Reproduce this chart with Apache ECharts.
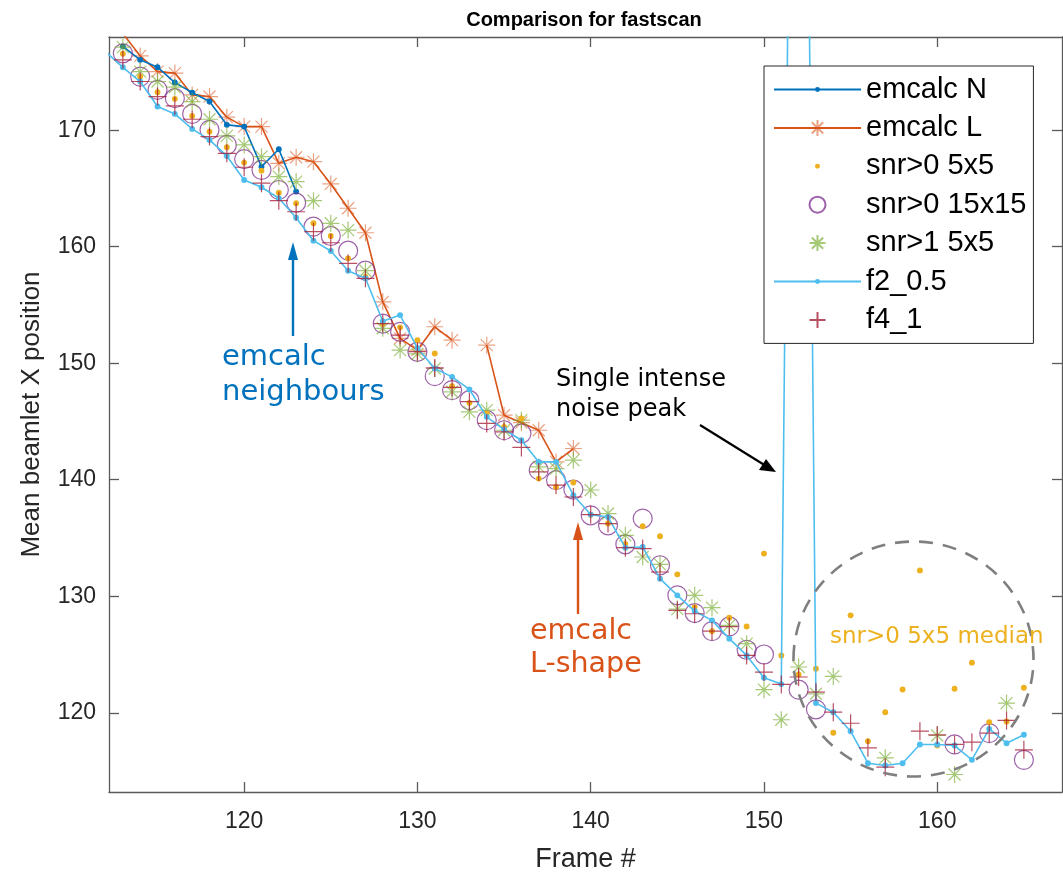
<!DOCTYPE html>
<html><head><meta charset="utf-8">
<script src="https://cdn.jsdelivr.net/npm/echarts@6/dist/echarts.min.js"></script>
<style>html,body{margin:0;padding:0;background:#fff}#c{width:1063px;height:879px}</style>
</head><body><div id="c"></div>
<script>
const frames = [112,113,114,115,116,117,118,119,120,121,122,123,124,125,126,127,128,129,130,131,132,133,134,135,136,137,138,139,140,141,142,143,144,145,146,147,148,149,150,151,152,153,154,155,156,157,158,159,160,161,162,163,164,165];
const emcalcN = [null,177.2,176.04,175.41,174.09,173.23,172.46,170.46,170.31,166.87,168.37,164.73,null,null,null,null,null,null,null,null,null,null,null,null,null,null,null,null,null,null,null,null,null,null,null,null,null,null,null,null,null,null,null,null,null,null,null,null,null,null,null,null,null,null];
const emcalcL = [null,178.3,176.38,175.03,174.90,173.03,172.89,171.12,170.31,170.31,167.16,167.68,167.30,165.39,163.30,161.20,155.27,152.13,151.13,153.13,151.98,null,151.55,145.54,144.9,144.25,141.53,142.68,null,null,null,null,null,null,null,null,null,null,null,null,null,null,null,null,null,null,null,null,null,null,null,null,null,null];
const snr0_5 = [null,176.56,174.6,173.26,172.69,171.23,169.88,168.54,167.22,166.53,164.64,163.73,162.01,160.92,159.0,157.42,153.4,153.08,151.98,150.84,148.03,146.60,145.69,144.54,145.26,140.10,139.38,139.76,137.0,136.24,134.5,136.01,135.15,131.88,129.07,127.0,128.16,127.41,133.66,124.92,123.29,123.78,118.28,128.36,117.56,120.05,122.0,132.22,117.19,122.06,124.30,119.19,119.25,122.15];
const snr0_15 = [null,176.6,174.6,173.46,172.75,171.40,170.03,168.74,167.51,166.59,164.87,163.78,161.72,160.92,159.66,157.94,153.4,152.7,150.98,148.89,147.69,146.83,145.11,144.25,143.97,140.82,139.96,139.16,136.95,136.09,134.46,136.67,132.66,130.08,128.56,127.01,127.41,125.41,125.0,null,121.98,120.3,null,null,null,null,null,null,null,117.28,null,118.25,null,115.96];
const snr1_5 = [null,177.13,175.03,174.18,173.69,172.46,170.94,169.51,168.74,167.73,166.01,165.58,163.95,162.01,161.43,157.94,153.0,151.13,150.8,149.55,147.55,145.83,145.97,144.25,145.11,141.10,140.96,141.68,139.12,137.1,135.23,133.37,132.74,128.9,130.08,129.02,127.5,125.93,121.98,119.4,123.93,121.63,123.12,null,null,116.13,null,null,118.05,114.7,null,null,120.83,null];
const f2_05 = [176.74,175.4,174.18,172.03,171.40,170.11,169.17,167.79,165.73,165.10,164.16,162.49,160.52,159.63,157.94,157.29,153.6,154.13,151.3,149.55,148.83,147.75,145.40,144.31,143.39,141.53,141.53,138.67,137.01,136.80,134.17,134.23,131.51,130.08,128.73,127.93,126.36,124.92,123.01,122.46,275,120.83,120.05,118.42,115.67,115.47,115.67,117.28,117.28,117.19,115.96,118.62,117.39,118.11];
const f4_1 = [null,176.04,174.18,172.89,172.09,170.94,169.45,168.02,166.82,165.45,163.95,163.0,161.29,160.34,158.57,157.29,153.4,152.41,151.0,149.6,147.92,146.7,144.83,144.11,142.77,140.67,139.53,138.52,137.0,136.24,134.17,134.09,132.08,128.79,128.5,127.01,127.4,124.92,123.49,122.43,123.07,121.77,120.05,119.10,116.99,115.33,null,118.42,118.1,117.28,117.48,118.25,119.34,116.82];
const seriesNames = ['emcalc N','emcalc L','snr>0 5x5','snr>0 15x15','snr>1 5x5','f2_0.5','f4_1'];
const xTicks = [120,130,140,150,160];
const yTicks = [120,130,140,150,160,170];

const STAR = 'path://M0,-10L0,10M-10,0L10,0M-7.07,-7.07L7.07,7.07M-7.07,7.07L7.07,-7.07';
const PLUS = 'path://M0,-10L0,10M-10,0L10,0';
const DOT = 'path://M-10,-10M10,10M-3.1,0A3.1,3.1,0,1,1,3.1,0A3.1,3.1,0,1,1,-3.1,0Z';
const CIRC = 'path://M-10,0A10,10,0,1,1,10,0A10,10,0,1,1,-10,0Z';

function pairs(vals){ return frames.map((f,i)=>[f, vals[i]]); }

function mk(name, vals, o){
  return {
    name: name, type: 'line', data: pairs(vals), clip: true,
    symbol: o.symbol, symbolSize: o.size, showSymbol: true,
    connectNulls: false, animation: false, silent: true, z: o.z || 2,
    lineStyle: o.line ? {color: o.lineColor, width: 1.6} : {color: o.lineColor, width: 0, opacity: 0},
    itemStyle: o.fill ? {color: o.fillColor, borderWidth: 0, opacity: o.op || 1}
                      : {color: 'none', borderColor: o.stroke, borderWidth: o.bw || 1.2, opacity: o.op || 1},
    emphasis: {disabled: true}
  };
}

const AX = '#5a5a5a';
const TXT = '#262626';
const FONT = '"Liberation Sans", Arial, Helvetica, sans-serif';
const ANN = '"DejaVu Sans", Verdana, sans-serif';

const chart = echarts.init(document.getElementById('c'), null, {renderer: 'canvas'});
const xMin = 112.2, xMax = 167.2, yMin = 113.2, yMax = 178.0;
const axX = (pos, show) => ({
  type: 'value', position: pos, min: xMin, max: xMax,
  axisLine: {show: true, onZero: false, lineStyle: {color: AX, width: 1.3}},
  axisTick: {show: true, inside: true, length: 10, customValues: xTicks, lineStyle: {color: AX, width: 1.3}},
  axisLabel: {show: show, customValues: xTicks, margin: 18, color: TXT, fontSize: 23, fontFamily: FONT},
  splitLine: {show: false},
  name: show ? 'Frame #' : '', nameLocation: 'middle', nameGap: 54,
  nameTextStyle: {color: TXT, fontSize: 27, fontFamily: FONT}
});
const axY = (pos, show) => ({
  type: 'value', position: pos, min: yMin, max: yMax,
  axisLine: {show: true, onZero: false, lineStyle: {color: AX, width: 1.3}},
  axisTick: {show: true, inside: true, length: 10, customValues: yTicks, lineStyle: {color: AX, width: 1.3}},
  axisLabel: {show: show, customValues: yTicks, margin: 13, color: TXT, fontSize: 23, fontFamily: FONT},
  splitLine: {show: false},
  name: show ? 'Mean beamlet X position' : '', nameLocation: 'middle', nameGap: 64, nameRotate: 90,
  nameTextStyle: {color: TXT, fontSize: 26, fontFamily: FONT}
});

chart.setOption({
  animation: false,
  backgroundColor: '#fff',
  title: {text: 'Comparison for fastscan', left: 579, top: 5, textAlign: 'center',
          textStyle: {fontFamily: FONT, fontWeight: 'bold', fontSize: 20, color: '#000'}},
  grid: {left: 109, right: 1, top: 37, bottom: 87, containLabel: false},
  xAxis: [axX('bottom', true), axX('top', false)],
  yAxis: [axY('left', true), axY('right', false)],
  legend: {
    orient: 'vertical', left: 764, top: 66,
    padding: [9, 7, 9, 9], itemWidth: 87, itemHeight: 20, itemGap: 9.4,
    borderColor: '#262626', borderWidth: 1, backgroundColor: '#fff',
    selectedMode: false, z: 10,
    textStyle: {fontSize: 29, fontFamily: FONT, color: '#000'},
    data: seriesNames
  },
  series: [
    mk(seriesNames[0], emcalcN, {symbol: DOT, size: 19, line: true, lineColor: '#0072BD', fill: true, fillColor: '#0072BD', z: 3}),
    mk(seriesNames[1], emcalcL, {symbol: STAR, size: 17, line: true, lineColor: '#D95319', stroke: 'rgba(217,83,25,0.55)', z: 2}),
    mk(seriesNames[2], snr0_5, {symbol: DOT, size: 19, line: false, fill: true, fillColor: '#EDB120', z: 4}),
    mk(seriesNames[3], snr0_15, {symbol: CIRC, size: 19, line: false, stroke: 'rgba(126,47,142,0.75)', z: 3}),
    mk(seriesNames[4], snr1_5, {symbol: STAR, size: 17, line: false, stroke: 'rgba(119,172,48,0.65)', z: 3}),
    mk(seriesNames[5], f2_05, {symbol: DOT, size: 19, line: true, lineColor: '#4DBEEE', fill: true, fillColor: '#4DBEEE', z: 5}),
    mk(seriesNames[6], f4_1, {symbol: PLUS, size: 18, line: false, stroke: 'rgba(162,20,47,0.75)', z: 6})
  ],
  graphic: [
    {type: 'ellipse', shape: {cx: 913.5, cy: 659, rx: 120, ry: 117.5}, silent: true, z: 7,
     style: {fill: 'none', stroke: '#7f7f7f', lineWidth: 2.6, lineDash: [14, 10]}},
    {type: 'text', left: 830, top: 626, silent: true, z: 8,
     style: {text: 'snr>0 5x5 median', fill: '#EDB120', font: '23px ' + ANN}},
    {type: 'text', left: 556, top: 365, silent: true, z: 8,
     style: {text: 'Single intense\nnoise peak', fill: '#000', font: '24px ' + ANN, lineHeight: 30}},
    {type: 'line', shape: {x1: 700, y1: 425, x2: 766, y2: 466}, silent: true, z: 8,
     style: {stroke: '#000', lineWidth: 2.2}},
    {type: 'polygon', shape: {points: [[776, 472], [759, 470], [766, 459]]}, silent: true, z: 8,
     style: {fill: '#000'}},
    {type: 'text', left: 222, top: 340, silent: true, z: 8,
     style: {text: 'emcalc\nneighbours', fill: '#0072BD', font: '29px ' + ANN, lineHeight: 35}},
    {type: 'line', shape: {x1: 293, y1: 336, x2: 293, y2: 256}, silent: true, z: 8,
     style: {stroke: '#0072BD', lineWidth: 2.4}},
    {type: 'polygon', shape: {points: [[293, 242], [288, 260], [298, 260]]}, silent: true, z: 8,
     style: {fill: '#0072BD'}},
    {type: 'text', left: 530, top: 615, silent: true, z: 8,
     style: {text: 'emcalc\nL-shape', fill: '#D95319', font: '28.5px ' + ANN, lineHeight: 33}},
    {type: 'line', shape: {x1: 578, y1: 614, x2: 578, y2: 536}, silent: true, z: 8,
     style: {stroke: '#D95319', lineWidth: 2.4}},
    {type: 'polygon', shape: {points: [[578, 522], [573, 540], [583, 540]]}, silent: true, z: 8,
     style: {fill: '#D95319'}}
  ]
});
</script>
</body></html>
